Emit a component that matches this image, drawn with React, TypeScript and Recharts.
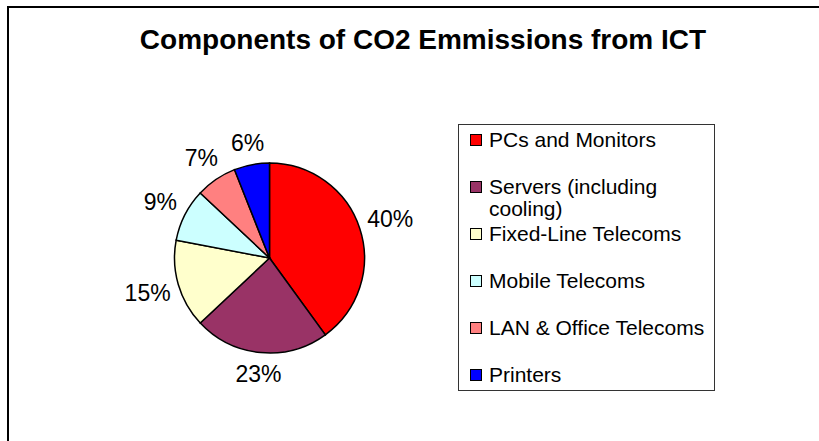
import React from 'react';
import { PieChart, Pie, Cell } from 'recharts';

// --- chart data ---
const categories = [
  'PCs and Monitors',
  'Servers (including cooling)',
  'Fixed-Line Telecoms',
  'Mobile Telecoms',
  'LAN & Office Telecoms',
  'Printers',
];
const shares = [40, 23, 15, 9, 7, 6];
const sliceColors = ['#FF0000', '#993366', '#FFFFCC', '#CCFFFF', '#FF8080', '#0000FF'];

const chartTitle = 'Components of CO2 Emmissions from ICT';

const data = categories.map((name, i) => ({ name, value: shares[i] }));

const FONT = '"Liberation Sans", Arial, Helvetica, sans-serif';
const RAD = Math.PI / 180;
const LABEL_SIZE = 23;

// percent labels sit just outside the pie, pushed out by the text box extent
const renderLabel = (props: any) => {
  const { cx, cy, midAngle, outerRadius, value } = props;
  const text = `${value}%`;
  const halfW = ((text.length - 1) * 0.556 + 0.889) * LABEL_SIZE / 2;
  const halfH = 8;
  const c = Math.cos(-midAngle * RAD);
  const s = Math.sin(-midAngle * RAD);
  const r = outerRadius + 12 + 0.8 * halfW * Math.abs(c) + halfH * Math.abs(s);
  const x = cx + r * c;
  const y = cy + r * s;
  return (
    <text
      x={x}
      y={y}
      fill="#000"
      textAnchor="middle"
      dominantBaseline="central"
      fontFamily={FONT}
      fontSize={LABEL_SIZE}
    >
      {text}
    </text>
  );
};

const ChartLegend = () => (
  <div
    style={{
      position: 'absolute',
      left: 458,
      top: 124,
      width: 255,
      height: 265,
      border: '1px solid #333',
      boxSizing: 'content-box',
      fontFamily: FONT,
      fontSize: 21,
      color: '#000',
    }}
  >
    {categories.map((name, i) => (
      <div
        key={name}
        style={{
          position: 'absolute',
          left: 11,
          top: 4 + i * 47,
          display: 'flex',
          alignItems: 'flex-start',
        }}
      >
        <span
          style={{
            width: 10,
            height: 10,
            marginTop: 4.5,
            background: sliceColors[i],
            border: '1.5px solid #000',
            flex: 'none',
          }}
        />
        <span style={{ marginLeft: 7, width: 228, lineHeight: '22px' }}>{name}</span>
      </div>
    ))}
  </div>
);

const App: React.FC = () => {
  return (
    <div
      style={{
        position: 'absolute',
        left: 0,
        top: 0,
        width: 819,
        height: 441,
        overflow: 'hidden',
        background: '#fff',
      }}
    >
      {/* outer frame, runs off the right and bottom edges */}
      <div
        style={{
          position: 'absolute',
          left: 7,
          top: 6,
          width: 900,
          height: 500,
          borderLeft: '2px solid #000',
          borderTop: '2px solid #000',
        }}
      />
      <div
        style={{
          position: 'absolute',
          left: 0,
          top: 25.6,
          width: 846,
          textAlign: 'center',
          fontFamily: FONT,
          fontWeight: 'bold',
          fontSize: 28,
          lineHeight: '28px',
          whiteSpace: 'nowrap',
        }}
      >
        {chartTitle}
      </div>
      <div style={{ position: 'absolute', left: 0, top: 0 }}>
        <PieChart width={819} height={441} margin={{ top: 0, right: 0, bottom: 0, left: 0 }}>
          <Pie
            data={data}
            dataKey="value"
            nameKey="name"
            cx={269.5}
            cy={258}
            outerRadius={95}
            startAngle={90}
            endAngle={-270}
            stroke="#000"
            strokeWidth={1.5}
            label={renderLabel}
            labelLine={false}
            isAnimationActive={false}
          >
            {data.map((d, i) => (
              <Cell key={d.name} fill={sliceColors[i]} />
            ))}
          </Pie>
        </PieChart>
      </div>
      <ChartLegend />
    </div>
  );
};

export default App;
